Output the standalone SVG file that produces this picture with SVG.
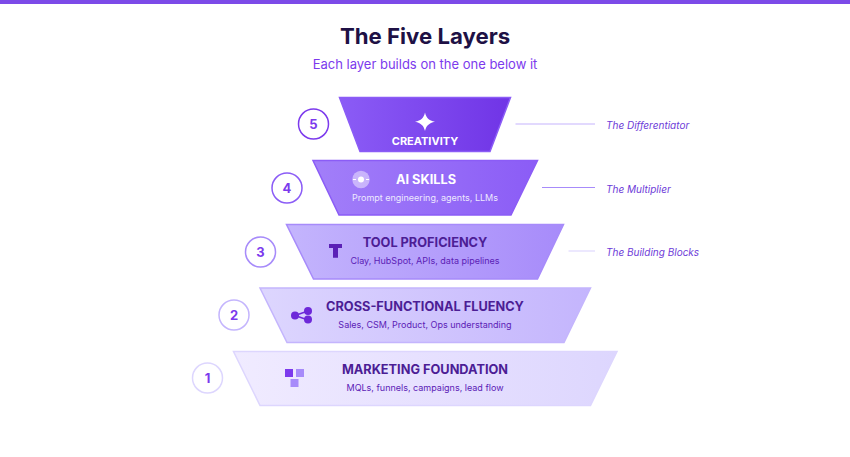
<svg xmlns="http://www.w3.org/2000/svg" width="850" height="457" viewBox="0 0 850 457">
<style>
text{font-family:Inter,"Liberation Sans",sans-serif}
.t{font-size:12.75px;font-weight:700;text-anchor:middle}
.s{font-size:9px;font-weight:400;text-anchor:middle}
.n{font-size:13px;font-weight:700;text-anchor:middle}
.l{font-size:10px;font-style:italic;fill:#6d3bd8}
.c{fill:#fff;stroke-width:1.5}
</style>
<defs>
<linearGradient id="g5" x1="0" y1="0" x2="1" y2="0"><stop offset="0" stop-color="#8b5cf6"/><stop offset="1" stop-color="#7034e6"/></linearGradient>
<linearGradient id="g4" x1="0" y1="0" x2="1" y2="0"><stop offset="0" stop-color="#a27ff9"/><stop offset="1" stop-color="#8b5cf6"/></linearGradient>
<linearGradient id="g3" x1="0" y1="0" x2="1" y2="0"><stop offset="0" stop-color="#c4b5fd"/><stop offset="1" stop-color="#a78bfa"/></linearGradient>
<linearGradient id="g2" x1="0" y1="0" x2="1" y2="0"><stop offset="0" stop-color="#ddd6fe"/><stop offset="1" stop-color="#c4b5fd"/></linearGradient>
<linearGradient id="g1" x1="0" y1="0" x2="1" y2="0"><stop offset="0" stop-color="#f0ebff"/><stop offset="1" stop-color="#ddd6fe"/></linearGradient>
</defs>
<rect width="850" height="457" fill="#fff"/>
<rect width="850" height="4" fill="#7c4ae8"/>
<text x="425" y="44" text-anchor="middle" font-size="22.2" font-weight="700" fill="#1e1145">The Five Layers</text>
<text x="425" y="69" text-anchor="middle" font-size="13" fill="#7c3aed">Each layer builds on the one below it</text>
<g id="connectors" fill="none">
<path d="M515.500 124H595" stroke="#d8ccfe" stroke-width="1.500"/>
<path d="M542 187.500H595" stroke="#a78bfa" stroke-width="1"/>
<path d="M568.500 251H595" stroke="#e6e0fe" stroke-width="1.500"/>
</g>
<g id="layer-5">
<circle class="c" cx="313.500" cy="124" r="15" stroke="#7c3aed"/>
<text class="n" x="313.500" y="129" fill="#7c3aed">5</text>
<polygon points="339.500,97.500 510.500,97.500 490,151.500 360,151.500" fill="url(#g5)" stroke="#8b5cf6" stroke-width="1.500"/>
<path d="M425 112.500c1.300 5.500 3.700 7.800 10 9.300-6.300 1.500-8.700 3.800-10 9.300-1.300-5.500-3.700-7.800-10-9.300 6.300-1.500 8.700-3.800 10-9.300z" fill="#fff"/>
<text class="t" x="425" y="145" fill="#fff" style="font-size:11px">CREATIVITY</text>
</g>
<g id="layer-4">
<circle class="c" cx="287" cy="188" r="15" stroke="#8b5cf6"/>
<text class="n" x="287" y="193" fill="#7c3aed">4</text>
<polygon points="313,160.500 537.500,160.500 511,215 339,215" fill="url(#g4)" stroke="#8b5cf6" stroke-width="1.500"/>
<circle cx="361" cy="179.500" r="8.700" fill="#fff" fill-opacity="0.45"/>
<circle cx="361" cy="179.500" r="3" fill="#fff"/>
<path d="M353 179.500h3M366 179.500h3" stroke="#fff" stroke-width="1"/>
<text class="t" x="426" y="184" fill="#fff">AI SKILLS</text>
<text class="s" x="425" y="201" fill="#ede9fe">Prompt engineering, agents, LLMs</text>
</g>
<g id="layer-3">
<circle class="c" cx="260.500" cy="252" r="15" stroke="#a78bfa"/>
<text class="n" x="260.500" y="257" fill="#7c3aed">3</text>
<polygon points="286.500,224.500 563.500,224.500 537.500,279 313.500,279" fill="url(#g3)" stroke="#a78bfa" stroke-width="1.500"/>
<path d="M329 244h13v4h-4v9.700h-5v-9.700h-4z" fill="#5b21b6"/>
<text class="t" x="425" y="247" fill="#4c1d95">TOOL PROFICIENCY</text>
<text class="s" x="425" y="264" fill="#5b21b6">Clay, HubSpot, APIs, data pipelines</text>
</g>
<g id="layer-2">
<circle class="c" cx="234" cy="315" r="15" stroke="#c4b5fd"/>
<text class="n" x="234" y="320" fill="#7c3aed">2</text>
<polygon points="260,288 590.500,288 564,342.500 287,342.500" fill="url(#g2)" stroke="#c4b5fd" stroke-width="1.500"/>
<path d="M295 315.500l13-4.500M295 315.500l13 4.500" stroke="#6d28d9" stroke-width="1.500"/>
<circle cx="295" cy="315.500" r="4" fill="#6d28d9"/><circle cx="308" cy="311" r="4" fill="#6d28d9"/><circle cx="308" cy="319.500" r="4" fill="#6d28d9"/>
<text class="t" x="425" y="311" fill="#4c1d95">CROSS-FUNCTIONAL FLUENCY</text>
<text class="s" x="425" y="328" fill="#5b21b6">Sales, CSM, Product, Ops understanding</text>
</g>
<g id="layer-1">
<circle class="c" cx="207.500" cy="378" r="15" stroke="#ddd6fe"/>
<text class="n" x="207.500" y="383" fill="#7c3aed">1</text>
<polygon points="233.500,351.500 617,351.500 590.500,405.500 260,405.500" fill="url(#g1)" stroke="#ddd6fe" stroke-width="1.500"/>
<rect x="285" y="369" width="8" height="8" fill="#7c3aed"/>
<rect x="296" y="369" width="8" height="8" fill="#a78bfa"/>
<rect x="290.500" y="379" width="8" height="8" fill="#a78bfa"/>
<text class="t" x="425" y="374" fill="#4c1d95">MARKETING FOUNDATION</text>
<text class="s" x="425" y="391" fill="#5b21b6">MQLs, funnels, campaigns, lead flow</text>
</g>
<g id="labels">
<text class="l" x="606" y="129">The Differentiator</text>
<text class="l" x="606" y="192.500">The Multiplier</text>
<text class="l" x="606" y="256">The Building Blocks</text>
</g>
</svg>
